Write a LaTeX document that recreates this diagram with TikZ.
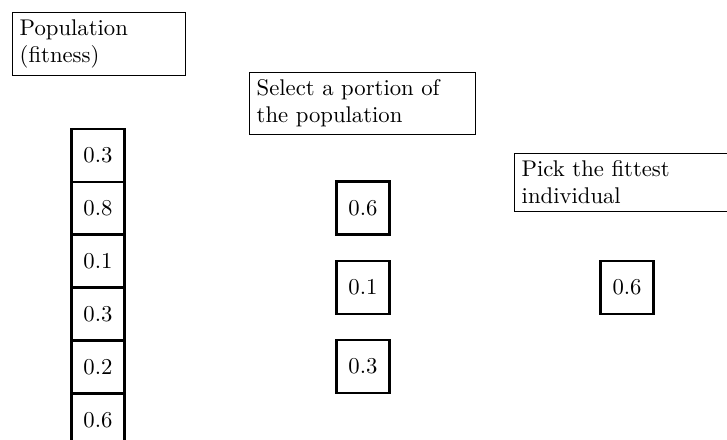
\documentclass[tikz,border=0pt]{standalone}
\usetikzlibrary{positioning}
\begin{document}
\begin{tikzpicture}[
  x=0.4405pt, y=-0.4405pt,
  every node/.style={font=\fontsize{10}{12}\selectfont},
  caption/.style={draw, thin, anchor=north west, align=left, inner sep=3.2pt},
  cell/.style={draw, very thick, minimum size=23.3pt, inner sep=0pt, outer sep=0pt},
]
\useasboundingbox (0,0) rectangle (727,439);
\clip (0,0) rectangle (727,439);

% step captions
\node[caption, text width=70pt] (capPop) at (12,12) {Population\\(fitness)};
\node[caption, text width=93.3pt] (capSel) at (249,72) {Select a portion of\\the population};
\node[caption, text width=93.3pt] (capPick) at (514,153) {Pick the fittest\\individual};

% whole population, one cell per individual
\node[cell] (p1) at (98,155.5) {0.3};
\node[cell, below=0pt of p1] (p2) {0.8};
\node[cell, below=0pt of p2] (p3) {0.1};
\node[cell, below=0pt of p3] (p4) {0.3};
\node[cell, below=0pt of p4] (p5) {0.2};
\node[cell, below=0pt of p5] (p6) {0.6};

% sampled subset
\node[cell] (s1) at (363,208) {0.6};
\node[cell] (s2) at (363,287.5) {0.1};
\node[cell] (s3) at (363,366.5) {0.3};

% winner
\node[cell] (w) at (627,287.5) {0.6};
\end{tikzpicture}
\end{document}
